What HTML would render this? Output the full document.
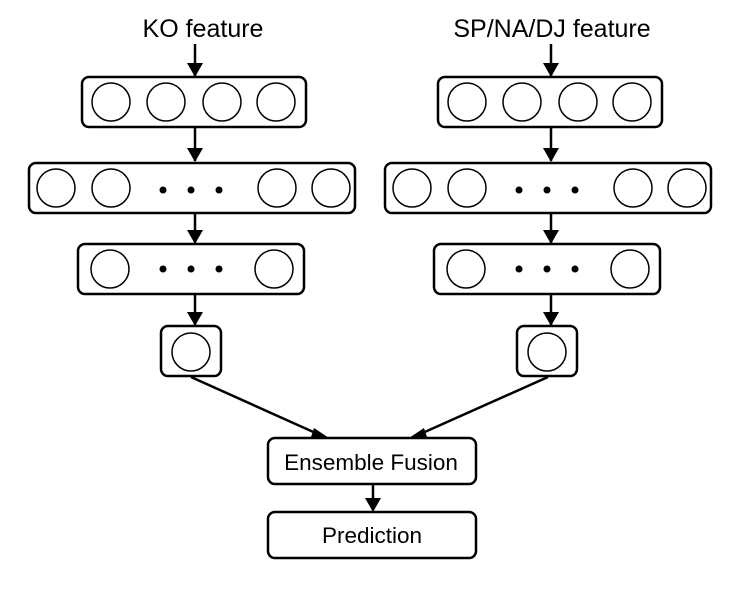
<!DOCTYPE html>
<html><head><meta charset="utf-8"><style>
html,body{margin:0;padding:0;background:#fff;}
svg{display:block;}
text{font-family:"Liberation Sans",Arial,sans-serif;fill:#000;}
</style></head><body>
<svg width="748" height="591" viewBox="0 0 748 591" xmlns="http://www.w3.org/2000/svg">
<defs>
<g id="branch">
  <line x1="195" y1="44" x2="195" y2="76" stroke="#000" stroke-width="2.5"/>
  <path d="M187,63 L195,77 L203,63 z" fill="#000"/>
  <rect x="82" y="77" width="224" height="50" rx="7" fill="#fff" stroke="#000" stroke-width="2.5"/>
  <g fill="none" stroke="#000" stroke-width="1.5">
    <circle cx="111" cy="102" r="19"/><circle cx="166" cy="102" r="19"/>
    <circle cx="222" cy="102" r="19"/><circle cx="276" cy="102" r="19"/>
  </g>
  <line x1="195" y1="127" x2="195" y2="161" stroke="#000" stroke-width="2.5"/>
  <path d="M187,148 L195,162 L203,148 z" fill="#000"/>
  <rect x="29" y="163" width="326" height="50" rx="7" fill="#fff" stroke="#000" stroke-width="2.5"/>
  <g fill="none" stroke="#000" stroke-width="1.5">
    <circle cx="56" cy="188" r="19"/><circle cx="111" cy="188" r="19"/>
    <circle cx="277" cy="188" r="19"/><circle cx="331" cy="188" r="19"/>
  </g>
  <circle cx="163" cy="190" r="3.5"/><circle cx="191" cy="190" r="3.5"/><circle cx="219" cy="190" r="3.5"/>
  <line x1="195" y1="213" x2="195" y2="243" stroke="#000" stroke-width="2.5"/>
  <path d="M187,230 L195,244 L203,230 z" fill="#000"/>
  <rect x="78" y="244" width="226" height="50" rx="7" fill="#fff" stroke="#000" stroke-width="2.5"/>
  <g fill="none" stroke="#000" stroke-width="1.5">
    <circle cx="110" cy="269" r="19"/><circle cx="274" cy="269" r="19"/>
  </g>
  <circle cx="163" cy="269" r="3.5"/><circle cx="191" cy="269" r="3.5"/><circle cx="219" cy="269" r="3.5"/>
  <line x1="195" y1="294" x2="195" y2="325" stroke="#000" stroke-width="2.5"/>
  <path d="M187,312 L195,326 L203,312 z" fill="#000"/>
  <rect x="161" y="326" width="60" height="50" rx="7" fill="#fff" stroke="#000" stroke-width="2.5"/>
  <circle cx="191" cy="352" r="19" fill="none" stroke="#000" stroke-width="1.5"/>
</g>
</defs>
<text x="203" y="37" font-size="25" text-anchor="middle">KO feature</text>
<text x="552" y="37" font-size="25" text-anchor="middle">SP/NA/DJ feature</text>
<use href="#branch"/>
<use href="#branch" transform="translate(356,0)"/>
<line x1="191" y1="377" x2="320" y2="435" stroke="#000" stroke-width="2.5"/>
<path d="M314,428 L329,438 L311,437 z" fill="#000"/>
<line x1="548" y1="377" x2="418" y2="435" stroke="#000" stroke-width="2.5"/>
<path d="M424,428 L409,438 L427,437 z" fill="#000"/>
<rect x="268" y="438" width="208" height="46" rx="7" fill="#fff" stroke="#000" stroke-width="2.5"/>
<text x="371" y="470" font-size="22.5" text-anchor="middle">Ensemble Fusion</text>
<line x1="373" y1="484" x2="373" y2="510" stroke="#000" stroke-width="2.5"/>
<path d="M365,498 L373,512 L381,498 z" fill="#000"/>
<rect x="268" y="512" width="208" height="46" rx="7" fill="#fff" stroke="#000" stroke-width="2.5"/>
<text x="372" y="543" font-size="22.5" text-anchor="middle">Prediction</text>
</svg>
</body></html>
